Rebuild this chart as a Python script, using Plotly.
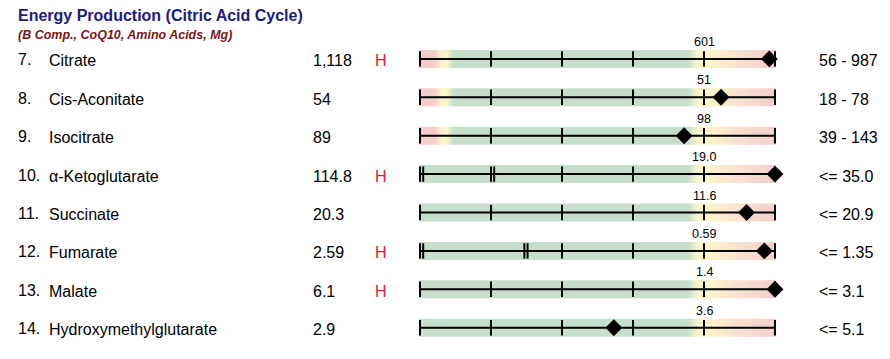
import plotly.graph_objects as go

# ---- data ----
row_numbers = ["7.", "8.", "9.", "10.", "11.", "12.", "13.", "14."]
analytes = ["Citrate", "Cis-Aconitate", "Isocitrate", "α-Ketoglutarate",
            "Succinate", "Fumarate", "Malate", "Hydroxymethylglutarate"]
results = ["1,118", "54", "89", "114.8", "20.3", "2.59", "6.1", "2.9"]
flags = ["H", "", "", "H", "", "H", "H", ""]
ref_ranges = ["56 - 987", "18 - 78", "39 - 143", "<= 35.0", "<= 20.9",
              "<= 1.35", "<= 3.1", "<= 5.1"]
upper_tick_labels = ["601", "51", "98", "19.0", "11.6", "0.59", "1.4", "3.6"]
# position of the result on the 0..5 graphic scale
marker_pos = [4.92, 4.24, 3.72, 5.0, 4.60, 4.85, 5.0, 2.73]
two_sided = [True, True, True, False, False, False, False, False]
single_ticks = [
    [0, 1, 2, 3, 4, 5],
    [0, 1, 2, 3, 4, 5],
    [0, 1, 2, 3, 4, 5],
    [2, 3, 4, 5],
    [0, 1, 2, 3, 4, 5],
    [2, 3, 4, 5],
    [0, 1, 2, 3, 4, 5],
    [0, 1, 2, 3, 4, 5],
]
break_ticks = [[], [], [], [0, 1], [], [0, 1.47], [], []]

title = "Energy Production (Citric Acid Cycle)"
subtitle = "(B Comp., CoQ10, Amino Acids, Mg)"

# ---- styling ----
W, H = 890, 359
FONT = "Liberation Sans, Arial, sans-serif"
PINK, YEL, GRN = "#f5cdcd", "#fdf5c8", "#c6dfcc"
scale_both = [[0, PINK], [0.045, PINK], [0.062, YEL], [0.078, YEL], [0.096, GRN],
              [0.755, GRN], [0.78, YEL], [0.81, YEL], [0.9, "#f8e0d0"], [1, PINK]]
scale_upper = [[0, GRN], [0.755, GRN], [0.78, YEL], [0.81, YEL], [0.9, "#f8e0d0"], [1, PINK]]

px_per_unit = 71.0
x_lo, x_hi = -1 / px_per_unit, 5 + 1 / px_per_unit
band_half = 9 / 38.4

fig = go.Figure()
n = len(analytes)
for k in range(n):
    fig.add_trace(go.Scatter(
        x=[x_lo, x_hi, x_hi, x_lo, x_lo],
        y=[k - band_half, k - band_half, k + band_half, k + band_half, k - band_half],
        mode="lines", line=dict(width=0), fill="toself",
        fillgradient=dict(type="horizontal",
                          colorscale=scale_both if two_sided[k] else scale_upper),
        hoverinfo="skip", showlegend=False))
    fig.add_trace(go.Scatter(
        x=[0, 5], y=[k, k], mode="lines", line=dict(color="black", width=2),
        hoverinfo="skip", showlegend=False, cliponaxis=False))
    tx = list(single_ticks[k])
    for b in break_ticks[k]:
        tx += [b, b + 0.045]
    fig.add_trace(go.Scatter(
        x=tx, y=[k] * len(tx), mode="markers",
        marker=dict(symbol="line-ns", size=11, line=dict(color="black", width=2)),
        hoverinfo="skip", showlegend=False, cliponaxis=False))
    fig.add_trace(go.Scatter(
        x=[marker_pos[k]], y=[k], mode="markers",
        marker=dict(symbol="diamond", size=13, color="black"),
        hoverinfo="skip", showlegend=False, cliponaxis=False))

ann = []
def txt(xpx, k, s, color="black", size=16, **kw):
    ann.append(dict(x=xpx / W, xref="paper", y=k, yref="y", text=s, showarrow=False,
                    xanchor="left", yanchor="middle",
                    font=dict(family=FONT, size=size, color=color), **kw))

for k in range(n):
    txt(16, k, row_numbers[k], yshift=-1)
    txt(47, k, analytes[k], yshift=-2)
    txt(311, k, results[k], yshift=-2)
    if flags[k]:
        txt(373, k, flags[k], color="#e8192c", yshift=-2)
    txt(817, k, ref_ranges[k], yshift=-2)
    ann.append(dict(x=4, xref="x", y=k, yref="y", text=upper_tick_labels[k],
                    showarrow=False, xanchor="center", yanchor="middle", yshift=17,
                    font=dict(family=FONT, size=12.5, color="black")))

ann.append(dict(x=16 / W, xref="paper", y=1 - 15 / H, yref="paper", text="<b>" + title + "</b>",
                showarrow=False, xanchor="left", yanchor="middle",
                font=dict(family=FONT, size=16, color="#1c1c7c")))
ann.append(dict(x=16 / W, xref="paper", y=1 - 35 / H, yref="paper", text="<b><i>" + subtitle + "</i></b>",
                showarrow=False, xanchor="left", yanchor="middle",
                font=dict(family=FONT, size=12.5, color="#7a1616")))

row_px = 38.4
top0 = 58.9
y_top = -top0 / row_px
y_bot = y_top + H / row_px

fig.update_layout(
    width=W, height=H, margin=dict(l=0, r=0, t=0, b=0),
    paper_bgcolor="white", plot_bgcolor="white",
    xaxis=dict(domain=[419 / W, 776 / W], range=[x_lo, x_hi], visible=False, fixedrange=True),
    yaxis=dict(domain=[0, 1], range=[y_bot, y_top], visible=False, fixedrange=True),
    annotations=ann, showlegend=False,
)
fig.write_html("out.html", config={"displayModeBar": False},
               post_script="document.body.style.margin='0';document.body.style.overflow='hidden';")
